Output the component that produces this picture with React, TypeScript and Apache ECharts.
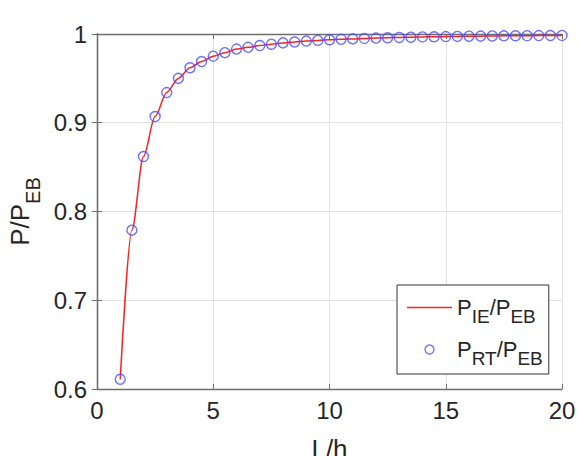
import React, { useEffect, useRef } from "react";
import * as echarts from "echarts";

const lOverH = [1, 1.5, 2, 2.5, 3, 3.5, 4, 4.5, 5, 5.5, 6, 6.5, 7, 7.5, 8, 8.5, 9, 9.5, 10, 10.5, 11, 11.5, 12, 12.5, 13, 13.5, 14, 14.5, 15, 15.5, 16, 16.5, 17, 17.5, 18, 18.5, 19, 19.5, 20];
const ieRatio = [0.611, 0.779, 0.862, 0.907, 0.934, 0.950, 0.962, 0.969, 0.975, 0.979, 0.983, 0.985, 0.987, 0.9885, 0.990, 0.991, 0.992, 0.9928, 0.9935, 0.994, 0.9945, 0.995, 0.9954, 0.9958, 0.9961, 0.9964, 0.9967, 0.9969, 0.9971, 0.9973, 0.9975, 0.9976, 0.9978, 0.9979, 0.998, 0.9981, 0.9982, 0.9983, 0.9984];
const rtRatio = [0.611, 0.779, 0.862, 0.907, 0.934, 0.950, 0.962, 0.969, 0.975, 0.979, 0.983, 0.985, 0.987, 0.9885, 0.990, 0.991, 0.992, 0.9928, 0.9935, 0.994, 0.9945, 0.995, 0.9954, 0.9958, 0.9961, 0.9964, 0.9967, 0.9969, 0.9971, 0.9973, 0.9975, 0.9976, 0.9978, 0.9979, 0.998, 0.9981, 0.9982, 0.9983, 0.9984];
const xTicks = [0, 20, 5];
const yTicks = [0.6, 1, 0.1];

const FONT = "'Liberation Sans', Arial, sans-serif";
const AXIS_COLOR = "#6e6e6e";
const TEXT_COLOR = "#262626";
const RT_COLOR = "#4a4aff";

export default function App() {
  const ref = useRef<HTMLDivElement>(null);
  useEffect(() => {
    if (!ref.current) return;
    const chart = echarts.init(ref.current, undefined, { renderer: "svg" });
    const axisCommon = {
      axisLine: { show: true, lineStyle: { color: AXIS_COLOR, width: 1.3 } },
      axisTick: { show: true, inside: true, length: 5, lineStyle: { color: AXIS_COLOR, width: 1 } },
      splitLine: { show: false },
    };
    chart.setOption({
      animation: false,
      backgroundColor: "#ffffff",
      textStyle: { fontFamily: FONT },
      grid: { left: 97, right: 16, top: 34, bottom: 67, containLabel: false, outerBoundsMode: "none" },
      legend: {
        show: true,
        orient: "vertical",
        left: 397,
        top: 285,
        padding: [4, 6, 6, 10],
        itemGap: 5,
        itemWidth: 45,
        itemHeight: 9,
        backgroundColor: "#ffffff",
        borderColor: "#333333",
        borderWidth: 1,
        borderRadius: 0,
        selectedMode: false,
        data: [
          { name: "IE", icon: "path://M0 0H45V1.5H0Z", itemStyle: { color: "#ff2020" } },
          { name: "RT", icon: "circle", itemStyle: { color: "transparent", borderColor: RT_COLOR, borderWidth: 1.3 } },
        ],
        formatter: (name: string) =>
          name === "IE" ? "{m|P}{s|IE}{m|/P}{s|EB}" : "{m|P}{s|RT}{m|/P}{s|EB}",
        textStyle: {
          color: TEXT_COLOR,
          fontFamily: FONT,
          rich: {
            m: { fontSize: 22, fontFamily: FONT, color: TEXT_COLOR, lineHeight: 24 },
            s: { fontSize: 19, fontFamily: FONT, color: TEXT_COLOR, padding: [18, 0, 0, 0], lineHeight: 19 },
          },
        },
      },
      xAxis: [
        {
          type: "value",
          min: xTicks[0],
          max: xTicks[1],
          interval: xTicks[2],
          ...axisCommon,
          splitLine: { show: true, lineStyle: { color: "#e3e3e3", width: 1 } },
          axisLabel: { fontSize: 24, color: TEXT_COLOR, fontFamily: FONT, margin: 9 },
          name: "L/h",
          nameLocation: "middle",
          nameGap: 47,
          nameTextStyle: { fontSize: 26, color: TEXT_COLOR, fontFamily: FONT },
        },
        {
          type: "value",
          position: "top",
          min: xTicks[0],
          max: xTicks[1],
          interval: xTicks[2],
          ...axisCommon,
          axisLabel: { show: false },
        },
      ],
      yAxis: [
        {
          type: "value",
          min: yTicks[0],
          max: yTicks[1],
          interval: yTicks[2],
          ...axisCommon,
          splitLine: { show: true, lineStyle: { color: "#e3e3e3", width: 1 } },
          axisLabel: {
            fontSize: 24,
            color: TEXT_COLOR,
            fontFamily: FONT,
            margin: 10,
            formatter: (v: number) => (Math.abs(v - 1) < 1e-9 ? "1" : v.toFixed(1)),
          },
          name: "{m|P/P}{s|EB}",
          nameLocation: "middle",
          nameGap: 52,
          nameRotate: 90,
          nameTextStyle: {
            color: TEXT_COLOR,
            fontFamily: FONT,
            rich: {
              m: { fontSize: 26, fontFamily: FONT, color: TEXT_COLOR, lineHeight: 28 },
              s: { fontSize: 20, fontFamily: FONT, color: TEXT_COLOR, padding: [26, 0, 0, 0], lineHeight: 20 },
            },
          },
        },
        {
          type: "value",
          position: "right",
          min: yTicks[0],
          max: yTicks[1],
          interval: yTicks[2],
          ...axisCommon,
          axisLabel: { show: false },
        },
      ],
      series: [
        {
          name: "IE",
          type: "line",
          data: lOverH.map((x, i) => [x, ieRatio[i]]),
          symbol: "none",
          smooth: 0.3,
          smoothMonotone: "x",
          lineStyle: { color: "#ff2020", width: 1.5 },
          itemStyle: { color: "#ff2020" },
          z: 2,
        },
        {
          name: "RT",
          type: "scatter",
          data: lOverH.map((x, i) => [x, rtRatio[i]]),
          symbol: "circle",
          symbolSize: 10,
          itemStyle: { color: "transparent", borderColor: RT_COLOR, borderWidth: 1.4, opacity: 0.8 },
          z: 3,
        },
      ],
    });
    return () => chart.dispose();
  }, []);
  return <div ref={ref} style={{ width: 578, height: 456, position: "absolute", left: 0, top: 0 }} />;
}
